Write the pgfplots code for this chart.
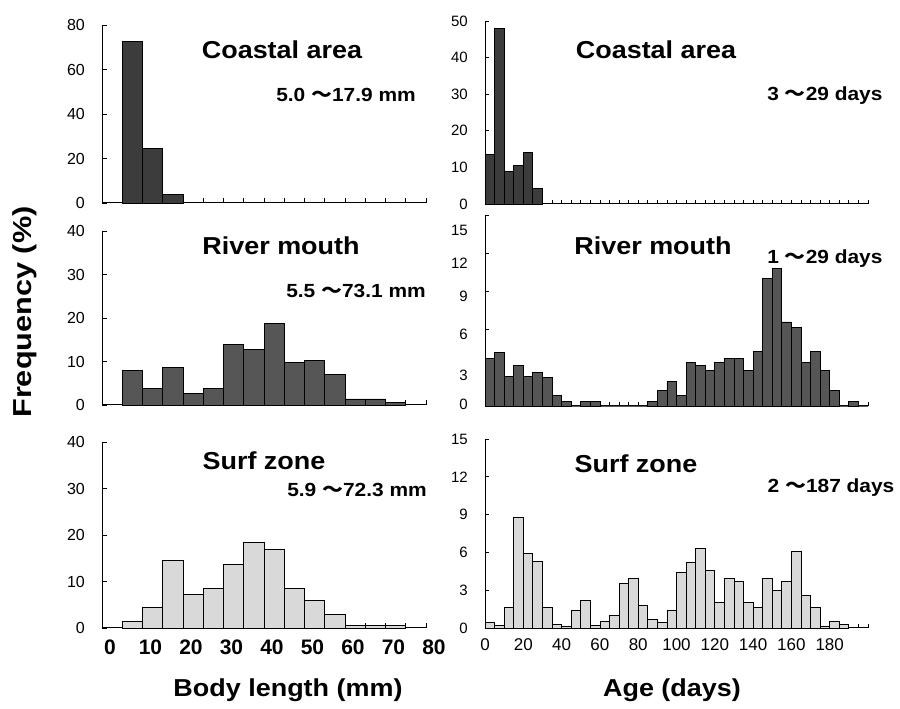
\documentclass[border=0pt]{standalone}
\usepackage{fontspec}
\setmainfont{Liberation Sans}
\newfontfamily\cjk{Noto Sans CJK JP}
\usepackage{graphicx}
\usepackage{pgfplots}
\pgfplotsset{compat=1.18}
\definecolor{coastal}{HTML}{3C3C3C}
\definecolor{river}{HTML}{565656}
\definecolor{surf}{HTML}{D9D9D9}

\newcommand\ttl[1]{\scalebox{1.1}[1]{\fontsize{24.5}{25}\selectfont\bfseries #1}}
\newcommand\rng[1]{\scalebox{1.1}[1]{\fontsize{19}{20}\selectfont\bfseries #1}}
\newcommand\tl{{\cjk ～}}

\pgfplotsset{
  panel/.style={
    scale only axis,
    axis x line*=bottom, axis y line*=left,
    axis line style={black, line width=1pt},
    tick align=inside,
    tick style={black, line width=0.8pt},
    major tick length=5pt,
    ymin=0,
    xticklabels={},
    /pgf/number format/assume math mode=true,
    yticklabel style={font=\fontsize{16}{16}\selectfont, anchor=east, inner sep=0pt, xshift=-17pt},
    clip=false,
  },
  lpanel/.style={panel, width=324pt, xmin=0, xmax=80, xtick={0,5,...,80}},
  rpanel/.style={panel, width=383pt, xmin=0, xmax=200, xtick={0,5,...,200}, major tick length=4pt,
    yticklabel style={font=\fontsize{15}{15}\selectfont}},
  bars/.style={ybar interval, draw=black, line width=0.8pt, fill=#1},
}

\begin{document}
\begin{tikzpicture}
\useasboundingbox (0,0) rectangle (900pt,709pt);

% ---------- left column ----------
\begin{axis}[lpanel, at={(102pt,506pt)}, anchor=south west, height=178pt, ymax=80, ytick={0,20,...,80}]
\addplot[bars=coastal] coordinates {(5,72.5) (10,24.6) (15,3.9) (20,0)};
\end{axis}

\begin{axis}[lpanel, at={(102pt,304pt)}, anchor=south west, height=174pt, ymax=40, ytick={0,10,...,40}]
\addplot[bars=river] coordinates {(5,8.0) (10,3.8) (15,8.6) (20,2.7) (25,3.8) (30,14.0) (35,12.8) (40,18.7) (45,9.7) (50,10.3) (55,7.0) (60,1.4) (65,1.4) (70,0.6) (75,0)};
\end{axis}

\begin{axis}[lpanel, at={(102pt,81pt)}, anchor=south west, height=186pt, ymax=40, ytick={0,10,...,40},
  extra x ticks={0,10,...,80}, extra x tick style={major tick length=0pt},
  xticklabel style={font=\bfseries\fontsize{21}{21}\selectfont, anchor=north, inner sep=0pt, yshift=-12pt, xshift=8pt}]
\addplot[bars=surf] coordinates {(5,1.4) (10,4.4) (15,14.5) (20,7.3) (25,8.6) (30,13.6) (35,18.4) (40,16.8) (45,8.6) (50,5.9) (55,3.0) (60,0.6) (65,0.6) (70,0.6) (75,0)};
\end{axis}

% ---------- right column ----------
\begin{axis}[rpanel, at={(485pt,505pt)}, anchor=south west, height=183pt, ymax=50, ytick={0,10,...,50}]
\addplot[bars=coastal] coordinates {(0,13.5) (5,47.9) (10,8.8) (15,10.5) (20,14.0) (25,4.3) (30,0)};
\end{axis}

\begin{axis}[rpanel, at={(485pt,303pt)}, anchor=south west, height=191pt, ymax=15, ytick={0,3,...,15},
  yticklabels={},
  extra y ticks={13.8,11.2,8.6,5.6,2.4,0.1}, extra y tick labels={15,12,9,6,3,0},
  extra y tick style={major tick length=0pt}]
\addplot[bars=river] coordinates {(0,3.75) (5,4.2) (10,2.3) (15,3.2) (20,2.3) (25,2.6) (30,2.25) (35,0.8) (40,0.35) (45,0) (50,0.35) (55,0.35) (60,0) (65,0) (70,0) (75,0) (80,0) (85,0.35) (90,1.2) (95,1.9) (100,0.8) (105,3.4) (110,3.2) (115,2.8) (120,3.4) (125,3.75) (130,3.75) (135,2.8) (140,4.3) (145,10.0) (150,10.8) (155,6.6) (160,6.2) (165,3.4) (170,4.3) (175,2.8) (180,1.2) (185,0) (190,0.35) (195,0) (200,0)};
\end{axis}

\begin{axis}[rpanel, at={(485pt,81pt)}, anchor=south west, height=189pt, ymax=15, ytick={0,3,...,15},
  extra x ticks={0,20,...,180}, extra x tick style={major tick length=0pt},
  xticklabel style={font=\fontsize{17}{17}\selectfont, anchor=north, inner sep=0pt, yshift=-10pt}]
\addplot[bars=surf] coordinates {(0,0.45) (5,0.2) (10,1.6) (15,8.8) (20,5.9) (25,5.3) (30,1.6) (35,0.26) (40,0.1) (45,1.4) (50,2.2) (55,0.2) (60,0.5) (65,1.0) (70,3.5) (75,3.9) (80,1.8) (85,0.66) (90,0.45) (95,1.4) (100,4.4) (105,5.2) (110,6.3) (115,4.6) (120,2.0) (125,3.9) (130,3.7) (135,2.0) (140,1.6) (145,3.9) (150,3.0) (155,3.7) (160,6.1) (165,2.6) (170,1.6) (175,0.1) (180,0.5) (185,0.26) (190,0)};
\end{axis}

% ---------- texts ----------
\node at (282pt,659pt) {\ttl{Coastal area}};
\node at (346pt,614pt) {\rng{5.0 \tl17.9 mm}};
\node at (281pt,463pt) {\ttl{River mouth}};
\node at (356pt,418pt) {\rng{5.5 \tl73.1 mm}};
\node at (264pt,248pt) {\ttl{Surf zone}};
\node at (357pt,219pt) {\rng{5.9 \tl72.3 mm}};

\node at (656pt,659pt) {\ttl{Coastal area}};
\node at (825pt,613pt) {\rng{3 \tl29 days}};
\node at (653pt,463pt) {\ttl{River mouth}};
\node at (825pt,450pt) {\rng{1 \tl29 days}};
\node at (636pt,245pt) {\ttl{Surf zone}};
\node at (831pt,221pt) {\rng{2 \tl187 days}};

\node at (288pt,19pt) {\ttl{Body length (mm)}};
\node at (672pt,19pt) {\ttl{Age (days)}};
\node[rotate=90] at (25pt,397pt) {\scalebox{1.18}[1]{\fontsize{26}{26}\selectfont\bfseries Frequency (\%)}};
\end{tikzpicture}
\end{document}
